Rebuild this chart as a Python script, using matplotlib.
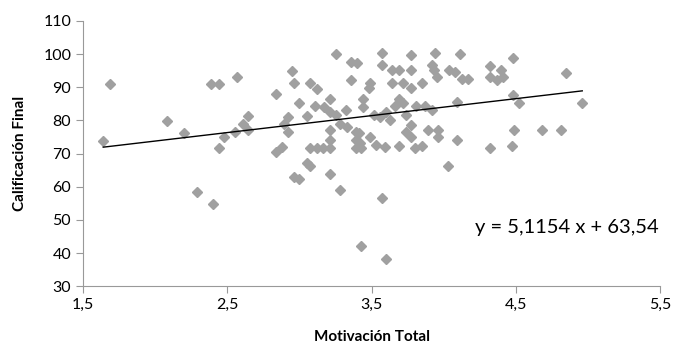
import matplotlib.pyplot as plt
import numpy as np

plt.rcParams['font.family'] = ['Lato', 'DejaVu Sans']

# Motivación Total vs Calificación Final
motivacion = [
    1.64, 1.69, 2.08, 2.20, 2.29, 2.40, 2.39, 2.44, 2.44, 2.48, 2.55, 2.57, 2.61, 2.64, 2.64,
    2.84, 2.84, 2.88, 2.89, 2.92, 2.92, 2.95, 2.96, 2.96, 3.00, 3.00, 3.05, 3.05, 3.07, 3.07,
    3.07, 3.12, 3.11, 3.12, 3.16, 3.17, 3.21, 3.21, 3.21, 3.21, 3.21, 3.21, 3.25, 3.25, 3.28,
    3.28, 3.32, 3.33, 3.36, 3.40, 3.36, 3.39, 3.39, 3.39, 3.43,
    3.44, 3.44, 3.48, 3.49, 3.41, 3.49, 3.42, 3.43, 3.53, 3.59, 3.56, 3.63, 3.57, 3.57, 3.57,
    3.60, 3.64, 3.69, 3.64, 3.72, 3.77, 3.85, 3.69, 3.66, 3.72, 3.74, 3.77, 3.74, 3.77, 3.69,
    3.77, 3.77, 3.81, 3.87, 3.92, 3.80, 3.85, 3.89, 3.96, 3.96, 3.94, 3.92, 3.93, 3.95, 4.04,
    4.08, 4.11, 4.13, 4.17, 4.09, 4.09, 4.03, 4.32, 4.32, 4.37, 4.40, 4.41, 4.32, 4.47, 4.48,
    4.48, 4.52, 4.49, 4.68, 4.81, 4.85, 4.96, 3.60, 3.52,
]
calificacion = [
    73.9, 91.0, 79.9, 76.1, 58.3, 54.7, 91.0, 91.0, 71.6, 75.1, 76.4, 93.2, 78.9, 81.4, 77.1,
    88.0, 70.6, 72.1, 78.9, 81.1, 76.4, 95.0, 91.2, 63.0, 62.3, 85.4, 81.4, 67.1, 66.1, 91.2,
    71.6, 89.4, 84.4, 71.6, 71.6, 84.0, 86.4, 82.4, 77.1, 74.1, 71.6, 63.8, 100.1, 81.7, 78.9,
    59.0, 83.0, 78.1, 97.5, 97.3, 92.2, 76.6, 74.1, 71.6, 42.2,
    86.4, 84.0, 89.7, 91.2, 76.2, 75.1, 73.1, 71.6, 72.6, 72.1, 81.1, 80.1, 100.3, 96.8, 56.5,
    38.1, 95.3, 95.3, 91.2, 91.2, 89.7, 91.2, 86.4, 84.2, 85.3, 81.7, 78.6, 76.6, 75.1, 72.4,
    99.8, 95.3, 84.4, 84.2, 83.2, 71.6, 72.4, 77.1, 77.1, 75.1, 100.4, 96.8, 95.3, 93.2, 95.3,
    94.5, 100.0, 92.5, 92.5, 85.7, 74.1, 66.3, 96.5, 93.2, 92.2, 95.3, 93.2, 71.6, 72.4, 98.9,
    87.7, 85.2, 77.1, 77.1, 77.1, 94.4, 85.4, 82.5, 81.5,
]

pendiente = 5.1154
intercepto = 63.54
x_ticks = [1.5, 2.5, 3.5, 4.5, 5.5]
y_ticks = [30, 40, 50, 60, 70, 80, 90, 100, 110]

fig = plt.figure(figsize=(6.75, 3.49), dpi=100)
ax = fig.add_axes([0.123, 0.18, 0.855, 0.76])

ax.plot(motivacion, calificacion, linestyle='none', marker='D', markersize=5.5,
        color='#a0a0a0', markeredgecolor='#a0a0a0')

# linea de tendencia
xs = np.array([min(motivacion), max(motivacion)])
ax.plot(xs, pendiente * xs + intercepto, color='black', linewidth=1)

ax.text(4.22, 47.8, 'y = 5,1154 x + 63,54', fontsize=14.5, va='center', ha='left')

ax.set_xlim(1.5, 5.5)
ax.set_ylim(30, 110)
ax.set_xticks(x_ticks)
ax.set_xticklabels([str(v).replace('.', ',') for v in x_ticks])
ax.set_yticks(y_ticks)

for s in ['top', 'right']:
    ax.spines[s].set_visible(False)
for s in ['left', 'bottom']:
    ax.spines[s].set_color('#999999')
ax.tick_params(axis='both', colors='#999999', labelcolor='black', labelsize=11.5,
               length=5, direction='out')

ax.set_xlabel('Motivación Total', fontsize=11, fontweight='bold', labelpad=13)
ax.set_ylabel('Calificación Final', fontsize=11, fontweight='bold', labelpad=12)

fig.savefig('out.png', dpi=100)
